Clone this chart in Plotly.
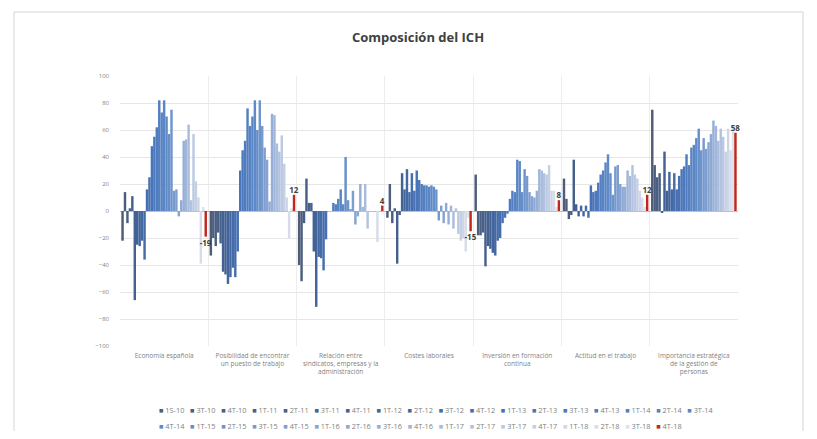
import plotly.graph_objects as go

# ---------------- data ----------------
categories = [
    "Economía española",
    "Posibilidad de encontrar<br>un puesto de trabajo",
    "Relación entre<br>sindicatos, empresas y la<br>administración",
    "Costes laborales",
    "Inversión en formación<br>continua",
    "Actitud en el trabajo",
    "Importancia estratégica<br>de la gestión de<br>personas",
]

series_labels = [
    "1S-10", "3T-10", "4T-10",
    "1T-11", "2T-11", "3T-11", "4T-11",
    "1T-12", "2T-12", "3T-12", "4T-12",
    "1T-13", "2T-13", "3T-13", "4T-13",
    "1T-14", "2T-14", "3T-14", "4T-14",
    "1T-15", "2T-15", "3T-15", "4T-15",
    "1T-16", "2T-16", "3T-16", "4T-16",
    "1T-17", "2T-17", "3T-17", "4T-17",
    "1T-18", "2T-18", "3T-18", "4T-18",
]

economia = [-22, 14, -9, 2, 11, -66, -25, -26, -22, -36, 16, 25, 48, 55, 62, 82, 73, 82,
            70, 57, 75, 15, 16, -4, 8, 52, 53, 64, 8, 57, 22, 10, -39, 3, -19]
posibilidad = [-33, -20, -26, -16, -24, -45, -47, -54, -49, -42, -49, -30, 30, 45, 52, 76, 63, 70,
               82, 60, 82, 63, 47, 38, 7, 72, 71, 50, 44, 56, 35, 10, -20, 2, 12]
relacion = [-40, -52, -9, 24, 6, 6, -30, -71, -34, -35, -44, -21, 0, 0, 6, 5, 9, 16,
            5, 40, 8, 1, 15, -10, -4, 20, 3, 20, -13, 0, 0, 0, -23, 0, 4]
costes = [-5, 20, -9, 2, -39, -3, 28, 16, 31, 14, 28, 15, 30, 23, 20, 19, 19, 18,
          19, 18, 16, -7, 4, -9, 6, -10, 4, -13, 2, -17, -22, -20, -30, -5, -15]
inversion = [27, -18, -18, -16, -41, -26, -28, -31, -33, -22, -20, -9, -5, -2, 9, 15, 14, 38,
             37, 14, 31, 26, 14, 11, 10, 15, 31, 30, 28, 27, 34, 15, 15, 3, 8]
actitud = [24, 9, -6, -3, 38, 5, -4, 4, -4, 4, -5, 19, 14, 15, 21, 27, 30, 36,
           42, 28, 12, 33, 34, 20, 18, 18, 30, 26, 34, 27, 24, 15, 10, 3, 12]
importancia = [75, 34, 25, 28, -1, 44, 15, 29, 16, 28, 16, 26, 31, 33, 42, 34, 47, 49,
               54, 61, 45, 54, 46, 51, 57, 67, 63, 52, 61, 55, 44, 61, 45, 60, 58]

y_ticks = [-100, -80, -60, -40, -20, 0, 20, 40, 60, 80, 100]

# ---------------- styling ----------------
by_category = [economia, posibilidad, relacion, costes, inversion, actitud, importancia]
n_series = len(series_labels)

anchors = [(0, (78, 92, 120)), (6, (66, 98, 150)), (12, (72, 116, 186)),
           (18, (94, 138, 200)), (24, (142, 168, 212)), (29, (188, 201, 226)),
           (33, (222, 227, 235))]
RED = "#c0281e"


def colour(i):
    if i == n_series - 1:
        return RED
    for (a, ca), (b, cb) in zip(anchors[:-1], anchors[1:]):
        if a <= i <= b:
            t = (i - a) / (b - a)
            return "rgb(%d,%d,%d)" % tuple(round(ca[k] + (cb[k] - ca[k]) * t) for k in range(3))
    return "rgb(%d,%d,%d)" % anchors[-1][1]


# the page body has an 8px default margin: lay out in figure pixels = window px - 8
OFF = 8
W, H = 817 - 2 * OFF, 439 - 2 * OFF
PX0, PX1, PY0, PY1 = 120 - OFF, 738 - OFF, 76 - OFF, 346 - OFF
ML, MR, MT, MB = PX0, W - PX1, PY0, H - PY1
PW, PH = PX1 - PX0, PY1 - PY0


def px(x):
    return (x - OFF - PX0) / PW


def py(y):
    return (PY1 - (y - OFF)) / PH


fig = go.Figure()
for s in range(n_series):
    vals = [cat[s] for cat in by_category]
    last = s == n_series - 1
    fig.add_trace(go.Bar(
        x=categories, y=vals, name=series_labels[s],
        marker=dict(color=colour(s), line=dict(width=0)),
        text=[str(v) for v in vals] if last else None,
        textposition="outside" if last else None,
        constraintext="none",
        cliponaxis=False,
        textfont=dict(size=8, color="#404040", family="Open Sans", weight="bold"),
        showlegend=False,
    ))

# legend built from real text
row_split = 18
font_leg = dict(size=7.35, color="#7f7f7f", family="Open Sans")
sep = "\u00a0\u00a0\u00a0"
for r, (lo, hi) in enumerate([(0, row_split), (row_split, n_series)]):
    parts = []
    for s in range(lo, hi):
        parts.append('<span style="color:%s">■</span>\u00a0%s' % (colour(s), series_labels[s]))
    fig.add_annotation(
        xref="paper", yref="paper",
        x=px(157), y=py(410 + r * 16),
        xanchor="left", yanchor="middle",
        text=sep.join(parts), showarrow=False, font=font_leg, align="left",
    )

# outer frame
fig.add_shape(type="rect", xref="paper", yref="paper",
              x0=px(14), x1=px(803), y0=py(436), y1=py(12),
              line=dict(color="#d4d4d4", width=1), fillcolor="rgba(0,0,0,0)", layer="below")

fig.update_layout(
    width=W, height=H,
    margin=dict(l=ML, r=MR, t=MT, b=MB, pad=0),
    paper_bgcolor="white", plot_bgcolor="white",
    barmode="group", bargap=0.03, bargroupgap=0,
    title=dict(text="Composición del ICH", x=(418 - OFF) / W, xanchor="center",
               y=1 - (37 - OFF) / H, yanchor="middle",
               font=dict(size=13, color="#404040", family="Open Sans", weight="bold")),
    font=dict(family="Open Sans", color="#7f7f7f"),
    xaxis=dict(tickson="boundaries", showgrid=True, gridcolor="#ededed", gridwidth=1,
               ticks="", showline=False, tickfont=dict(size=6.5, color="#7f7f7f"),
               ticklabelstandoff=4),
    yaxis=dict(range=[-100, 100], tickvals=y_ticks, showgrid=True, gridcolor="#e6e6e6",
               zeroline=True, zerolinecolor="#bfbfbf", zerolinewidth=1,
               tickfont=dict(size=6, color="#7f7f7f"), ticks="", ticklabelstandoff=10,
               showline=False),
)

fig.write_html("out.html")
